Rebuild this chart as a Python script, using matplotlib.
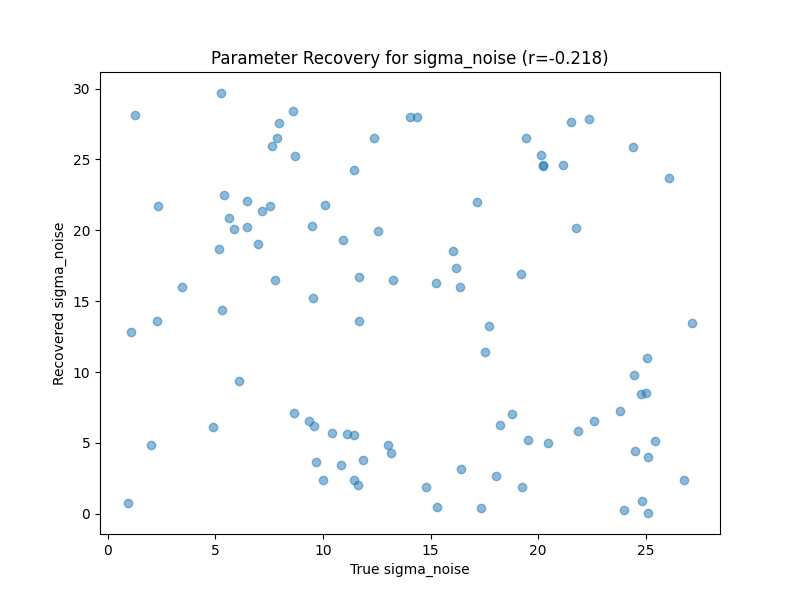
import numpy as np
import matplotlib
matplotlib.use('Agg')
import matplotlib.pyplot as plt

# true vs recovered sigma_noise
true_sigma = [
    1.25, 5.27, 8.60, 7.96, 7.87, 7.62, 8.71, 14.03, 14.37, 12.36,
    11.43, 5.40, 2.34, 6.47, 7.54, 7.17, 10.10, 5.64, 5.87, 6.47,
    9.48, 12.56, 10.93, 6.98, 5.17, 7.77, 11.66, 13.24, 3.45, 9.54,
    5.31, 21.51, 22.35, 19.42, 20.13, 20.23, 20.25, 21.14, 24.41, 26.08,
    17.15, 21.76, 16.05, 16.19, 15.26, 16.36, 19.20, 11.68, 2.29, 1.08,
    6.10, 8.64, 9.34, 9.59, 4.89, 10.42, 11.11, 11.45, 2.01, 13.02,
    13.16, 9.68, 10.84, 11.86, 10.00, 11.45, 11.63, 0.94, 27.15, 17.72,
    17.53, 25.05, 24.46, 24.77, 25.01, 23.79, 22.60, 21.86, 18.79, 18.23,
    19.53, 20.46, 25.46, 24.50, 25.09, 16.42, 18.04, 14.79, 19.25, 26.77,
    24.83, 15.30, 17.35, 23.99, 25.09,
]
recovered_sigma = [
    28.16, 29.69, 28.42, 27.57, 26.51, 25.95, 25.24, 28.02, 28.02, 26.51,
    24.28, 22.49, 21.74, 22.09, 21.74, 21.36, 21.81, 20.89, 20.11, 20.25,
    20.32, 19.95, 19.32, 19.05, 18.68, 16.51, 16.70, 16.51, 16.00, 15.22,
    14.38, 27.64, 27.85, 26.51, 25.34, 24.56, 24.58, 24.61, 25.90, 23.71,
    22.00, 20.16, 18.54, 17.34, 16.30, 16.00, 16.94, 13.60, 13.60, 12.82,
    9.36, 7.11, 6.56, 6.19, 6.12, 5.70, 5.62, 5.55, 4.85, 4.85,
    4.28, 3.65, 3.44, 3.79, 2.38, 2.38, 2.03, 0.75, 13.48, 13.27,
    11.41, 10.99, 9.81, 8.45, 8.52, 7.27, 6.54, 5.86, 7.04, 6.26,
    5.20, 4.99, 5.13, 4.42, 4.00, 3.15, 2.66, 1.88, 1.88, 2.38,
    0.92, 0.47, 0.40, 0.28, 0.05,
]

plt.figure(figsize=(8, 6), dpi=100)
plt.scatter(true_sigma, recovered_sigma, alpha=0.5)
plt.title('Parameter Recovery for sigma_noise (r=-0.218)')
plt.xlabel('True sigma_noise')
plt.ylabel('Recovered sigma_noise')
plt.savefig('out.png')
